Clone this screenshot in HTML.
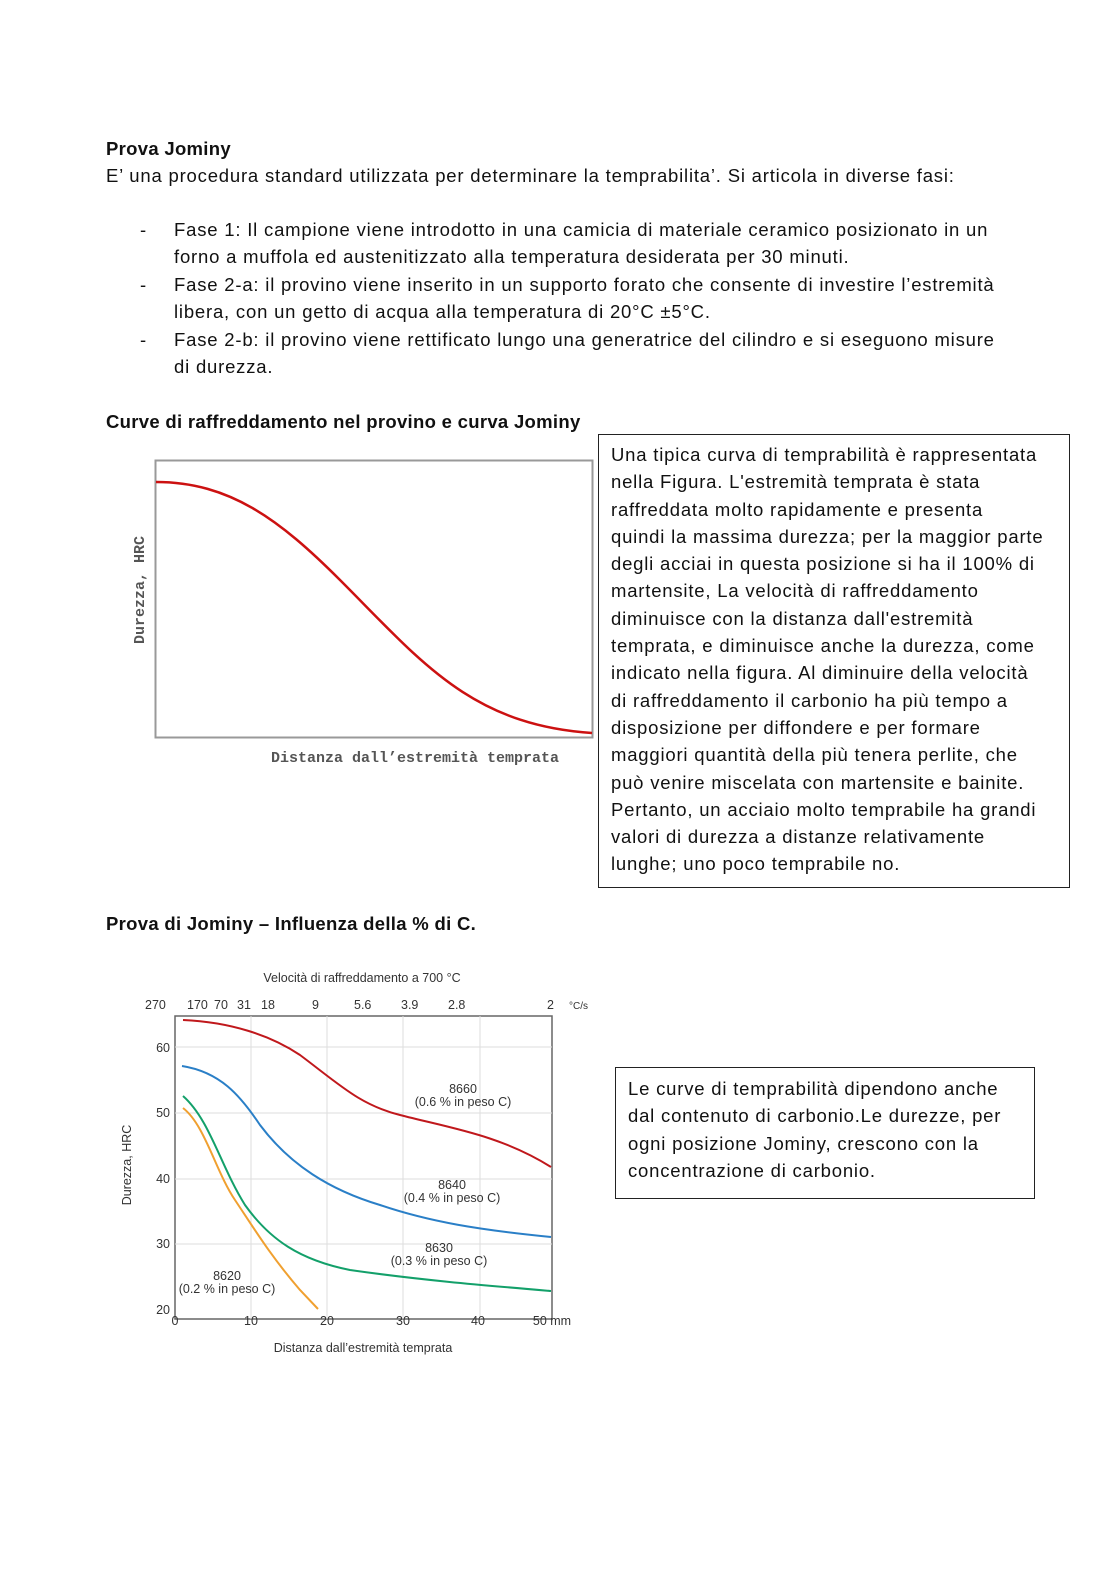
<!DOCTYPE html>
<html><head><meta charset="utf-8"><style>
body{margin:0;background:#fff;font-family:"Liberation Sans",sans-serif;color:#111;}
.p{position:absolute;white-space:nowrap;font-size:18.5px;letter-spacing:0.8px;}
.b{font-weight:bold;letter-spacing:0.3px;}
.box{position:absolute;border:1px solid #222;font-size:18.5px;letter-spacing:0.8px;line-height:27.3px;padding:6px 12px;box-sizing:border-box;white-space:nowrap;}
</style></head><body>
<div style="position:relative;width:1116px;height:1579px;overflow:hidden">
<div class="p b" style="left:106px;top:138px">Prova Jominy</div>
<div class="p" style="left:106px;top:165px">E’ una procedura standard utilizzata per determinare la temprabilita’. Si articola in diverse fasi:</div>
<div class="p" style="left:140px;top:219px">-</div>
<div class="p" style="left:174px;top:219px">Fase 1: Il campione viene introdotto in una camicia di materiale ceramico posizionato in un</div>
<div class="p" style="left:174px;top:246px">forno a muffola ed austenitizzato alla temperatura desiderata per 30 minuti.</div>
<div class="p" style="left:140px;top:274px">-</div>
<div class="p" style="left:174px;top:274px">Fase 2-a: il provino viene inserito in un supporto forato che consente di investire l’estremità</div>
<div class="p" style="left:174px;top:301px">libera, con un getto di acqua alla temperatura di 20°C ±5°C.</div>
<div class="p" style="left:140px;top:329px">-</div>
<div class="p" style="left:174px;top:329px">Fase 2-b: il provino viene rettificato lungo una generatrice del cilindro e si eseguono misure</div>
<div class="p" style="left:174px;top:356px">di durezza.</div>
<div class="p b" style="left:106px;top:411px">Curve di raffreddamento nel provino e curva Jominy</div>
<div class="box" style="left:598px;top:434px;width:472px;height:454px">Una tipica curva di temprabilità è rappresentata<br>nella Figura. L'estremità temprata è stata<br>raffreddata molto rapidamente e presenta<br>quindi la massima durezza; per la maggior parte<br>degli acciai in questa posizione si ha il 100% di<br>martensite, La velocità di raffreddamento<br>diminuisce con la distanza dall'estremità<br>temprata, e diminuisce anche la durezza, come<br>indicato nella figura. Al diminuire della velocità<br>di raffreddamento il carbonio ha più tempo a<br>disposizione per diffondere e per formare<br>maggiori quantità della più tenera perlite, che<br>può venire miscelata con martensite e bainite.<br>Pertanto, un acciaio molto temprabile ha grandi<br>valori di durezza a distanze relativamente<br>lunghe; uno poco temprabile no.</div>
<svg style="position:absolute;left:0;top:0" width="1116" height="1579">
<rect x="155.5" y="460.5" width="437" height="277" fill="none" stroke="#999" stroke-width="2"/>
<path d="M156,482 C230,482 280,520 340,580 C420,660 470,725 592,733" fill="none" stroke="#cc1111" stroke-width="2.5"/>
<text x="144" y="590" transform="rotate(-90 144 590)" text-anchor="middle" font-family="Liberation Mono,monospace" font-size="15" font-weight="bold" fill="#555">Durezza, HRC</text>
<text x="415" y="762" text-anchor="middle" font-family="Liberation Mono,monospace" font-size="15" font-weight="bold" fill="#555">Distanza dall’estremità temprata</text>
<g font-size="12.5" fill="#333" font-family="Liberation Sans,sans-serif">
<rect x="175" y="1016" width="377" height="303" fill="none" stroke="#666" stroke-width="1.5"/>
<g stroke="#ddd" stroke-width="1">
<line x1="251" y1="1016" x2="251" y2="1319"/><line x1="327" y1="1016" x2="327" y2="1319"/><line x1="403" y1="1016" x2="403" y2="1319"/><line x1="480" y1="1016" x2="480" y2="1319"/>
<line x1="175" y1="1047" x2="552" y2="1047"/><line x1="175" y1="1113" x2="552" y2="1113"/><line x1="175" y1="1179" x2="552" y2="1179"/><line x1="175" y1="1244" x2="552" y2="1244"/>
</g>
<text x="362" y="982" text-anchor="middle">Velocità di raffreddamento a 700 °C</text>
<text x="145" y="1009">270</text><text x="187" y="1009">170</text><text x="214" y="1009">70</text><text x="237" y="1009">31</text><text x="261" y="1009">18</text><text x="312" y="1009">9</text><text x="354" y="1009">5.6</text><text x="401" y="1009">3.9</text><text x="448" y="1009">2.8</text><text x="547" y="1009">2</text><text x="569" y="1009" font-size="10">°C/s</text>
<text x="170" y="1052" text-anchor="end">60</text><text x="170" y="1117" text-anchor="end">50</text><text x="170" y="1183" text-anchor="end">40</text><text x="170" y="1248" text-anchor="end">30</text><text x="170" y="1314" text-anchor="end">20</text>
<text x="175" y="1325" text-anchor="middle">0</text><text x="251" y="1325" text-anchor="middle">10</text><text x="327" y="1325" text-anchor="middle">20</text><text x="403" y="1325" text-anchor="middle">30</text><text x="478" y="1325" text-anchor="middle">40</text><text x="552" y="1325" text-anchor="middle">50 mm</text>
<text x="131" y="1165" transform="rotate(-90 131 1165)" text-anchor="middle">Durezza, HRC</text>
<text x="363" y="1352" text-anchor="middle">Distanza dall’estremità temprata</text>
<text x="463" y="1093" text-anchor="middle">8660</text><text x="463" y="1106" text-anchor="middle">(0.6 % in peso C)</text>
<text x="452" y="1189" text-anchor="middle">8640</text><text x="452" y="1202" text-anchor="middle">(0.4 % in peso C)</text>
<text x="439" y="1252" text-anchor="middle">8630</text><text x="439" y="1265" text-anchor="middle">(0.3 % in peso C)</text>
<text x="227" y="1280" text-anchor="middle">8620</text><text x="227" y="1293" text-anchor="middle">(0.2 % in peso C)</text>
</g>
<g fill="none" stroke-width="2">
<path d="M183,1020 C230,1022 270,1035 300,1055 C340,1085 360,1105 400,1115 C450,1128 500,1135 551,1167" stroke="#c0181c"/>
<path d="M182,1066 C220,1072 240,1095 260,1125 C290,1165 330,1190 380,1205 C430,1222 480,1230 551,1237" stroke="#2a7fc7"/>
<path d="M183,1096 C210,1120 220,1165 245,1205 C270,1240 300,1260 350,1270 C420,1280 480,1285 551,1291" stroke="#13a06a"/>
<path d="M183,1108 C205,1125 215,1170 235,1200 C255,1230 270,1255 300,1290 L318,1309" stroke="#f0a030"/>
</g>
</svg>
<div class="p b" style="left:106px;top:913px">Prova di Jominy – Influenza della % di C.</div>
<div class="box" style="left:615px;top:1067px;width:420px;height:132px;padding:7px 12px">Le curve di temprabilità dipendono anche<br>dal contenuto di carbonio.Le durezze, per<br>ogni posizione Jominy, crescono con la<br>concentrazione di carbonio.</div>
</div>
</body></html>
